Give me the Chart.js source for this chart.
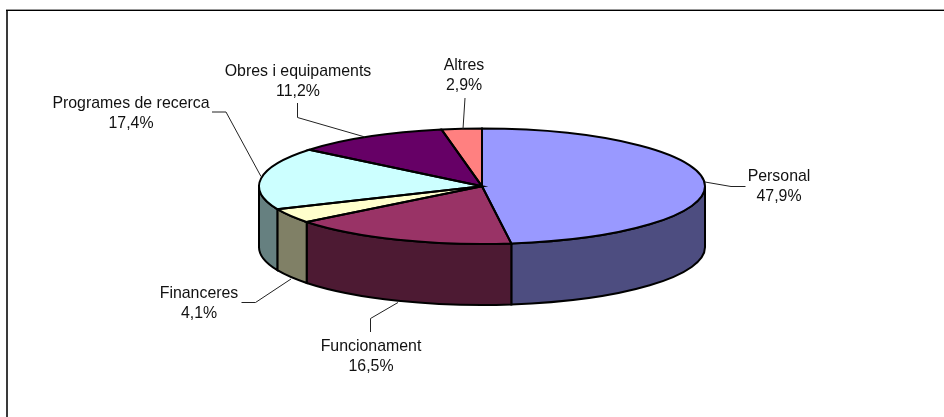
<!DOCTYPE html>
<html>
<head>
<meta charset="utf-8">
<title>Despeses</title>
<script src="https://cdn.jsdelivr.net/npm/chart.js@4/dist/chart.umd.min.js"></script>
<style>
    html, body { margin: 0; padding: 0; background: #fff; }
    #wrap { width: 944px; height: 417px; overflow: hidden; }
    canvas { display: block; }
</style>
</head>
<body>
<div id="wrap"><canvas id="pieChart" width="944" height="417"></canvas></div>
<script>
// Chart data
const categories = ['Personal', 'Funcionament', 'Financeres', 'Programes de recerca', 'Obres i equipaments', 'Altres'];
const shares = [47.9, 16.5, 4.1, 17.4, 11.2, 2.9];
const topColors = ['#9999FF', '#993366', '#FFFFCC', '#CCFFFF', '#660066', '#FF8080'];
const sideColors = ['#4D4D80', '#4D1A33', '#808066', '#668080', '#330033', '#804040'];

// Where the squashed pie sits on the page
const pie = { cx: 482, cy: 186.3, rx: 223, ry: 57.7, depth: 61 };

// Label centre and leader line for each slice, same order as categories
const labelCentres = [[779, 176.5], [371, 346.5], [199, 293.5], [131, 103.5], [298, 71.5], [464, 65.5]];
const leaders = [
    [[745.5, 186.5], [731, 186.5], [705, 182]],
    [[370.5, 332], [370.5, 318.5], [398, 302.5]],
    [[241.5, 302.5], [255.5, 302.5], [291, 279]],
    [[212, 112], [226, 112], [261, 176.5]],
    [[297.5, 103], [297.5, 117.5], [365, 137]],
    [[465, 98], [463, 129]]
];

function drawWalls(ctx, arcs) {
    arcs.forEach((arc, i) => {
        const { startAngle, endAngle } = arc.getProps(['startAngle', 'endAngle'], true);
        const from = Math.max(startAngle, 0);
        const to = Math.min(endAngle, Math.PI);
        if (to <= from) return;
        ctx.beginPath();
        ctx.ellipse(pie.cx, pie.cy + pie.depth, pie.rx, pie.ry, 0, from, to);
        ctx.ellipse(pie.cx, pie.cy, pie.rx, pie.ry, 0, to, from, true);
        ctx.closePath();
        ctx.fillStyle = sideColors[i];
        ctx.fill();
        ctx.strokeStyle = '#000';
        ctx.lineWidth = 2;
        ctx.stroke();
    });
}

function drawOutlines(ctx, arcs) {
    arcs.forEach(arc => {
        const { startAngle, endAngle } = arc.getProps(['startAngle', 'endAngle'], true);
        ctx.beginPath();
        ctx.moveTo(pie.cx, pie.cy);
        ctx.ellipse(pie.cx, pie.cy, pie.rx, pie.ry, 0, startAngle, endAngle);
        ctx.closePath();
        ctx.strokeStyle = '#000';
        ctx.lineWidth = 2;
        ctx.stroke();
    });
}

function drawLabels(ctx) {
    ctx.font = '15.9px "Liberation Sans", Arial, sans-serif';
    ctx.fillStyle = '#111';
    ctx.textAlign = 'center';
    ctx.textBaseline = 'middle';
    categories.forEach((name, i) => {
        const [x, y] = labelCentres[i];
        ctx.fillText(name, x, y);
        ctx.fillText(shares[i].toFixed(1).replace('.', ',') + '%', x, y + 20.5);
    });

    ctx.strokeStyle = '#222';
    ctx.lineWidth = 1;
    leaders.forEach(points => {
        ctx.beginPath();
        points.forEach(([x, y], i) => i ? ctx.lineTo(x, y) : ctx.moveTo(x, y));
        ctx.stroke();
    });
}

function drawFrame(ctx) {
    ctx.fillStyle = '#3a3a3a';
    ctx.fillRect(6, 9, 2, 408);
    ctx.fillStyle = '#999';
    ctx.fillRect(6, 9, 938, 1);
    ctx.fillStyle = '#000';
    ctx.fillRect(6, 10, 938, 1);
}

// Chart.js has no 3D pie: walls go under the slices, slices are drawn through a squashing transform
const pie3d = {
    id: 'pie3d',
    beforeDatasetsDraw(chart) {
        const ctx = chart.ctx;
        const arcs = chart.getDatasetMeta(0).data;
        const { x, y, outerRadius } = arcs[0].getProps(['x', 'y', 'outerRadius'], true);
        drawFrame(ctx);
        drawWalls(ctx, arcs);
        ctx.save();
        ctx.translate(pie.cx, pie.cy);
        ctx.scale(pie.rx / outerRadius, pie.ry / outerRadius);
        ctx.translate(-x, -y);
    },
    afterDatasetsDraw(chart) {
        const ctx = chart.ctx;
        ctx.restore();
        drawOutlines(ctx, chart.getDatasetMeta(0).data);
        drawLabels(ctx);
    }
};

new Chart(document.getElementById('pieChart').getContext('2d'), {
    type: 'pie',
    data: {
        labels: categories,
        datasets: [{
            data: shares,
            backgroundColor: topColors,
            borderWidth: 0,
            clip: false
        }]
    },
    options: {
        responsive: false,
        animation: false,
        plugins: {
            legend: { display: false },
            tooltip: { enabled: false }
        }
    },
    plugins: [pie3d]
});
</script>
</body>
</html>
